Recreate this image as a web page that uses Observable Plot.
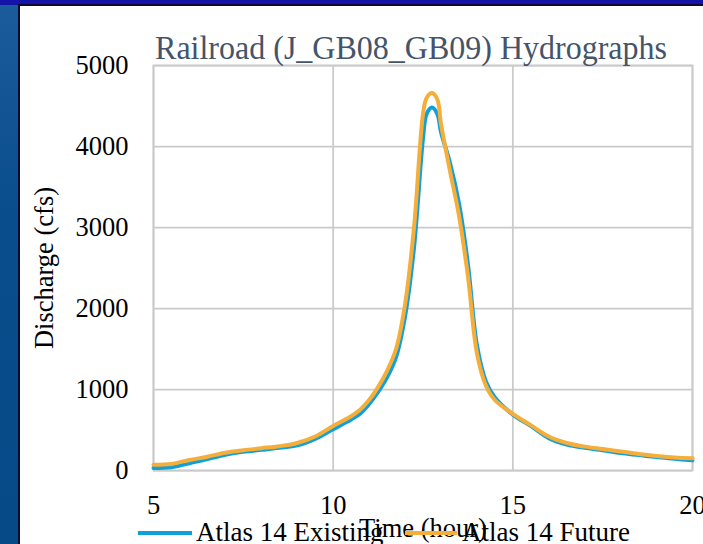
<!DOCTYPE html>
<html>
<head>
<meta charset="utf-8">
<script src="https://cdn.jsdelivr.net/npm/d3@7"></script>
<script src="https://cdn.jsdelivr.net/npm/@observablehq/plot@0.6"></script>
<style>
  html, body { margin: 0; padding: 0; width: 703px; height: 544px; overflow: hidden; }
  body { background: linear-gradient(to bottom, #1b5c9c 0%, #0a4d8c 40%, #074a88 100%); position: relative; font-family: "Liberation Serif", serif; }
  #topbar { position: absolute; left: 0; top: 0; width: 703px; height: 5px; background: #1414a8; }
  #panel { position: absolute; left: 18px; top: 4px; width: 700px; height: 560px; background: #fff; border-left: 2px solid #0c0c2a; border-top: 2px solid #0c0c2a; }
  #chart { position: absolute; left: 0; top: 0; }
  .title { position: absolute; left: 411px; top: 31px; transform: translateX(-50%) scaleY(1.08); white-space: nowrap; font-family: "Liberation Serif", serif; font-size: 32px; color: #44546a; line-height: 1; }
  .legend-line { position: absolute; height: 4px; }
  .legend-text { position: absolute; font-family: "Liberation Serif", serif; font-size: 27px; color: #000; line-height: 1; white-space: nowrap; }
</style>
</head>
<body>
<div id="topbar"></div>
<div id="panel"></div>
<div id="chart"></div>
<script>
// ---- data ----
const hours = [5, 5.5, 6, 6.5, 7, 7.5, 8, 8.5, 9, 9.5, 10, 10.5, 10.75, 11, 11.25, 11.5, 11.75, 12, 12.25, 12.5, 12.6, 12.75, 12.9, 13, 13.25, 13.5, 13.75, 14, 14.25, 14.5, 15, 15.5, 16, 16.5, 17, 17.5, 18, 18.5, 19, 19.5, 20];
const existing = [30, 40, 90, 140, 195, 230, 255, 280, 310, 390, 510, 630, 700, 820, 970, 1150, 1400, 1900, 2750, 4100, 4400, 4480, 4400, 4180, 3800, 3300, 2550, 1550, 1100, 900, 690, 550, 400, 320, 280, 250, 215, 190, 165, 145, 125];
const future = [70, 80, 130, 170, 220, 250, 275, 300, 340, 420, 550, 670, 750, 870, 1030, 1230, 1500, 2050, 3000, 4400, 4600, 4660, 4580, 4280, 3700, 3150, 2400, 1450, 1050, 870, 700, 560, 420, 340, 295, 265, 235, 205, 180, 160, 150];
const seriesNames = ["Atlas 14 Existing", "Atlas 14 Future"];
const seriesColors = ["#0ea0da", "#f5ae3a"];
const xTicks = [5, 10, 15, 20];
const yTicks = [0, 1000, 2000, 3000, 4000, 5000];
const titleText = "Railroad (J_GB08_GB09) Hydrographs";
const xLabel = "Time (hour)";
const yLabel = "Discharge (cfs)";

const rows = [];
hours.forEach((h, i) => {
  rows.push({hour: h, q: existing[i], s: seriesNames[0]});
  rows.push({hour: h, q: future[i], s: seriesNames[1]});
});

const gridColor = "#cacaca";

const chart = Plot.plot({
  width: 740,
  height: 544,
  marginLeft: 153,
  marginRight: 48,
  marginTop: 65,
  marginBottom: 74,
  style: {background: "transparent", maxWidth: "none", fontFamily: "Liberation Serif, serif", fontSize: "26.5px", color: "#000", overflow: "visible"},
  x: {domain: [5, 20], ticks: xTicks, tickSize: 0, tickPadding: 25, label: xLabel, labelAnchor: "center", labelOffset: 66, labelArrow: "none"},
  y: {domain: [0, 5000], ticks: yTicks, tickSize: 0, tickPadding: 25, tickFormat: d => String(d), label: yLabel, labelAnchor: "center", labelOffset: 119, labelArrow: "none"},
  color: {domain: seriesNames, range: seriesColors},
  marks: [
    Plot.gridX(xTicks, {stroke: gridColor, strokeOpacity: 1, strokeWidth: 1.75}),
    Plot.gridY(yTicks, {stroke: gridColor, strokeOpacity: 1, strokeWidth: 1.75}),
    Plot.frame({stroke: gridColor, strokeWidth: 1.75}),
    Plot.line(rows, {x: "hour", y: "q", z: "s", stroke: "s", strokeWidth: 4, curve: "catmull-rom"})
  ]
});
document.getElementById("chart").appendChild(chart);

// title
const t = document.createElement("div");
t.className = "title";
t.textContent = titleText;
document.body.appendChild(t);

// legend
const legendItems = [
  {name: seriesNames[0], color: seriesColors[0], lx: 138, lw: 54, tx: 196},
  {name: seriesNames[1], color: seriesColors[1], lx: 405, lw: 52, tx: 462}
];
legendItems.forEach(it => {
  const l = document.createElement("div");
  l.className = "legend-line";
  l.style.left = it.lx + "px";
  l.style.width = it.lw + "px";
  l.style.top = "531px";
  l.style.background = it.color;
  document.body.appendChild(l);
  const tx = document.createElement("div");
  tx.className = "legend-text";
  tx.style.left = it.tx + "px";
  tx.style.top = "519px";
  tx.textContent = it.name;
  document.body.appendChild(tx);
});
</script>
</body>
</html>
